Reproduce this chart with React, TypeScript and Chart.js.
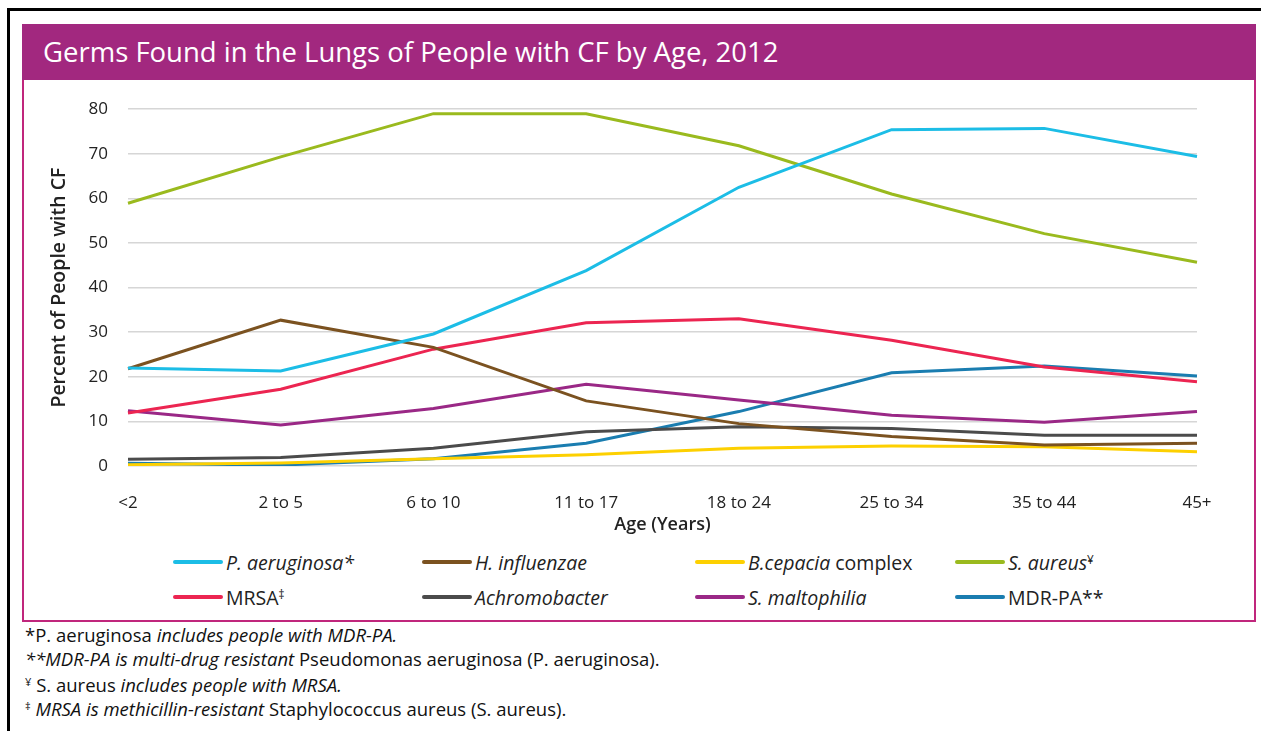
import React, { useEffect, useRef } from "react";
import { Chart, registerables } from "chart.js";

Chart.register(...registerables);

const categories = ["<2", "2 to 5", "6 to 10", "11 to 17", "18 to 24", "25 to 34", "35 to 44", "45+"];
const yTicks = [0, 10, 20, 30, 40, 50, 60, 70, 80];

const pAeruginosa = [22.0, 21.3, 29.6, 43.8, 62.5, 75.4, 75.7, 69.4];
const hInfluenzae = [21.8, 32.7, 26.6, 14.6, 9.5, 6.6, 4.7, 5.1];
const bCepacia = [0.3, 0.7, 1.6, 2.5, 4.0, 4.5, 4.3, 3.2];
const sAureus = [58.9, 69.3, 79.0, 79.0, 71.8, 61.0, 52.1, 45.7];
const mrsa = [11.9, 17.2, 26.2, 32.1, 33.0, 28.2, 22.2, 18.9];
const achromobacter = [1.5, 1.9, 4.0, 7.7, 8.8, 8.4, 6.9, 6.9];
const sMaltophilia = [12.4, 9.2, 12.9, 18.3, 14.8, 11.4, 9.8, 12.2];
const mdrPa = [0.6, 0.2, 1.6, 5.1, 12.2, 20.9, 22.4, 20.2];

const seriesNames = [
  "P. aeruginosa*",
  "H. influenzae",
  "B.cepacia complex",
  "S. aureus¥",
  "MRSA‡",
  "Achromobacter",
  "S. maltophilia",
  "MDR-PA**",
];
const seriesValues = [pAeruginosa, hInfluenzae, bCepacia, sAureus, mrsa, achromobacter, sMaltophilia, mdrPa];
const seriesColors = ["#1cbde6", "#7b5220", "#fdd000", "#9aba1e", "#ec2551", "#4b4b4b", "#9a2886", "#1a7db0"];

const FONT = "'Open Sans', Lato, sans-serif";

type Part = { t: string; i?: boolean; sup?: boolean };

const legendLabels: Part[][] = [
  [{ t: "P. aeruginosa*", i: true }],
  [{ t: "H. influenzae", i: true }],
  [{ t: "B.cepacia", i: true }, { t: " complex" }],
  [{ t: "S. aureus", i: true }, { t: "¥", sup: true }],
  [{ t: "MRSA" }, { t: "‡", sup: true }],
  [{ t: "Achromobacter", i: true }],
  [{ t: "S. maltophilia", i: true }],
  [{ t: "MDR-PA**" }],
];
const legendCols = [173, 422, 695, 955];
const legendRows = [562, 597];

const footnotes: Part[][] = [
  [{ t: "*P. aeruginosa" }, { t: " includes people with MDR-PA.", i: true }],
  [{ t: "**MDR-PA is multi-drug resistant", i: true }, { t: " Pseudomonas aeruginosa (P. aeruginosa)." }],
  [{ t: "¥", sup: true }, { t: " S. aureus" }, { t: " includes people with MRSA.", i: true }],
  [{ t: "‡", sup: true }, { t: " MRSA is methicillin-resistant", i: true }, { t: " Staphylococcus aureus (S. aureus)." }],
];

function renderParts(parts: Part[]) {
  return parts.map((p, k) => (
    <span
      key={k}
      style={{
        fontStyle: p.i ? "italic" : "normal",
        fontSize: p.sup ? "0.6em" : undefined,
        verticalAlign: p.sup ? "0.55em" : undefined,
      }}
    >
      {p.t}
    </span>
  ));
}

export default function App() {
  const ref = useRef<HTMLCanvasElement | null>(null);

  useEffect(() => {
    document.body.style.margin = "0";
    const ctx = ref.current!.getContext("2d")!;
    const chart = new Chart(ctx, {
      type: "line",
      data: {
        labels: categories,
        datasets: seriesNames.map((name, i) => ({
          label: name,
          data: seriesValues[i],
          borderColor: seriesColors[i],
          backgroundColor: seriesColors[i],
          borderWidth: 3,
          pointRadius: 0,
          tension: 0,
          fill: false,
        })),
      },
      options: {
        animation: false,
        responsive: false,
        maintainAspectRatio: false,
        layout: { padding: { top: 0, right: 43, left: 0, bottom: 0 } },
        plugins: { legend: { display: false }, tooltip: { enabled: false }, title: { display: false } },
        scales: {
          x: {
            offset: false,
            grid: { display: false, drawTicks: false },
            border: { display: false },
            ticks: { color: "#222", font: { family: FONT, size: 17 }, padding: 27, maxRotation: 0, autoSkip: false },
            title: {
              display: true,
              text: "Age (Years)",
              color: "#222",
              font: { family: FONT, size: 18, weight: 600 },
              padding: { top: 0, bottom: 4 },
            },
            afterFit: (s: any) => {
              s.height = 74;
            },
          },
          y: {
            min: yTicks[0],
            max: yTicks[yTicks.length - 1],
            ticks: { stepSize: yTicks[1] - yTicks[0], color: "#222", font: { family: FONT, size: 17 }, padding: 20 },
            grid: { color: "#d6d6d6", lineWidth: 1.5, drawTicks: false },
            border: { display: false },
            title: {
              display: true,
              text: "Percent of People with CF",
              color: "#222",
              font: { family: FONT, size: 19.5, weight: 600 },
              padding: { top: 18, bottom: 0 },
            },
            afterFit: (s: any) => {
              s.width = 98;
            },
          },
        },
      },
    });
    return () => chart.destroy();
  }, []);

  return (
    <div
      style={{
        position: "absolute",
        left: 0,
        top: 0,
        width: 1261,
        height: 731,
        overflow: "hidden",
        background: "#fff",
        fontFamily: FONT,
        color: "#111",
      }}
    >
      <div
        style={{
          position: "absolute",
          left: 7,
          top: 8,
          width: 1400,
          height: 900,
          borderLeft: "3px solid #000",
          borderTop: "3px solid #000",
        }}
      />
      <div
        style={{
          position: "absolute",
          left: 22,
          top: 24,
          width: 1230,
          height: 594,
          border: "2px solid #c0267c",
        }}
      />
      <div
        style={{
          position: "absolute",
          left: 22,
          top: 24,
          width: 1234,
          height: 56,
          background: "#a2287f",
        }}
      />
      <div
        style={{
          position: "absolute",
          left: 43,
          top: 34,
          color: "#fff",
          fontSize: 27.5,
          fontWeight: 500,
          lineHeight: "36px",
          whiteSpace: "nowrap",
        }}
      >
        Germs Found in the Lungs of People with CF by Age, 2012
      </div>
      <canvas
        ref={ref}
        width={1210}
        height={461}
        style={{ position: "absolute", left: 30, top: 79, width: 1210, height: 461 }}
      />
      {legendLabels.map((parts, i) => {
        const col = i % 4;
        const row = Math.floor(i / 4);
        const x = legendCols[col];
        const y = legendRows[row];
        return (
          <div key={i} style={{ position: "absolute", left: x, top: y - 14, height: 28, display: "flex", alignItems: "center", whiteSpace: "nowrap" }}>
            <div style={{ width: 50, height: 4, borderRadius: 2, background: seriesColors[i], marginRight: 3 }} />
            <div style={{ fontSize: 19.5, color: "#222" }}>{renderParts(parts)}</div>
          </div>
        );
      })}
      {footnotes.map((parts, i) => (
        <div
          key={i}
          style={{
            position: "absolute",
            left: 25,
            top: 623 + i * 23.5,
            fontSize: 18.5,
            lineHeight: "24px",
            whiteSpace: "nowrap",
            color: "#111",
          }}
        >
          {renderParts(parts)}
        </div>
      ))}
    </div>
  );
}
